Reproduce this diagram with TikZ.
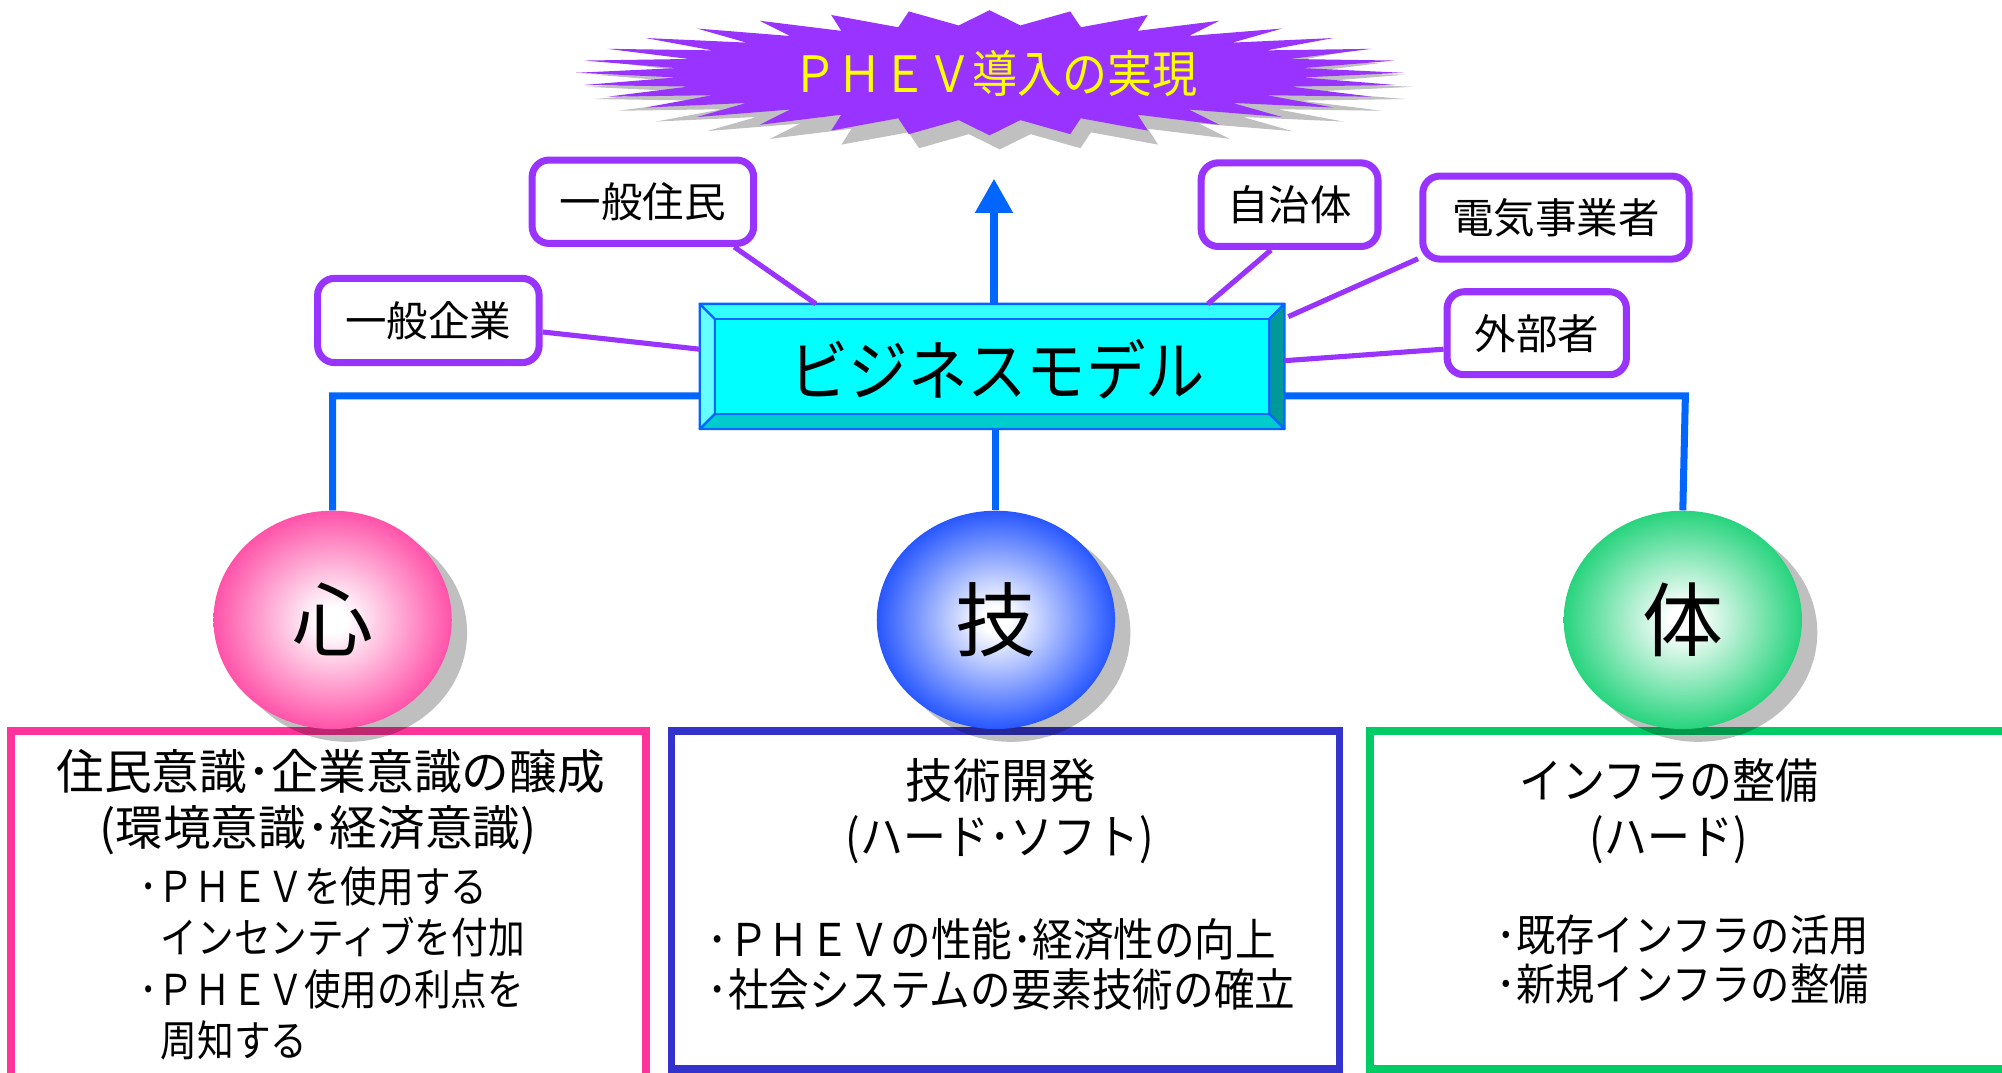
\documentclass[tikz,border=0pt]{standalone}
\usepackage{fontspec}
\setmainfont{Noto Sans CJK JP}
\newfontfamily\jpnarrow[FakeStretch=0.9]{Noto Sans CJK JP}
\newfontfamily\jpcond[FakeStretch=0.86]{Noto Sans CJK JP}
\usetikzlibrary{calc,arrows.meta,shapes.geometric,shadows}
\definecolor{starpurple}{HTML}{9933FF}
\definecolor{lblpurple}{HTML}{9933FF}
\definecolor{lineblue}{HTML}{0066FF}
\definecolor{kpink}{HTML}{FF3399}
\definecolor{kblue}{HTML}{0038FF}
\definecolor{kgreen}{HTML}{00CC66}
\definecolor{boxblue}{HTML}{3333CC}
\definecolor{cyanface}{HTML}{00FFFF}
\definecolor{cyantop}{HTML}{33FFFF}
\definecolor{cyanleft}{HTML}{66FFFF}
\definecolor{cyanbot}{HTML}{00CCCC}
\definecolor{cyanright}{HTML}{009999}
\definecolor{shadowgray}{HTML}{C0C0C0}
\definecolor{goalyellow}{HTML}{FFFF00}
\pgfdeclareradialshading{pinkball}{\pgfpoint{0bp}{0bp}}{color(0bp)=(white); color(3bp)=(white); color(29bp)=(kpink); color(50bp)=(kpink)}
\pgfdeclareradialshading{blueball}{\pgfpoint{0bp}{0bp}}{color(0bp)=(white); color(3bp)=(white); color(29bp)=(kblue); color(50bp)=(kblue)}
\pgfdeclareradialshading{greenball}{\pgfpoint{0bp}{0bp}}{color(0bp)=(white); color(3bp)=(white); color(29bp)=(kgreen); color(50bp)=(kgreen)}
\tikzset{
  lbl/.style={draw=lblpurple, line width=3.3pt, rounded corners=8pt, fill=white, inner sep=0pt, font=\fontsize{19.5}{22}\selectfont},
  conn/.style={draw=lblpurple, line width=2.4pt},
  blueline/.style={draw=lineblue, line width=3.3pt},
  bevel/.style={draw=lineblue, line width=1.1pt, line join=round},
  ball/.style={ellipse, minimum width=112pt, minimum height=102.6pt, inner sep=0pt, font=\fontsize{38}{40}\selectfont, drop shadow={shadow xshift=7.2pt, shadow yshift=-6pt, fill=black, opacity=0.25}},
  bigbox/.style={rectangle, line width=3.6pt, inner sep=0pt},
  titlefont/.style={inner sep=0pt, font=\fontsize{22.4}{26}\selectfont},
  titlenarrow/.style={inner sep=0pt, font=\jpnarrow\fontsize{22.4}{26}\selectfont},
  bulletL/.style={inner sep=0pt, align=left, font=\jpcond\fontsize{20}{24.2}\selectfont},
  bulletM/.style={inner sep=0pt, align=left, font=\jpnarrow\fontsize{20.5}{23.4}\selectfont},
  bulletMid/.style={inner sep=0pt, align=left, font=\jpnarrow\fontsize{21.2}{23.4}\selectfont},
}
\begin{document}
\begin{tikzpicture}[x=0.6pt,y=-0.6pt]
\useasboundingbox (0,0) rectangle (1568,840);
\clip (0,0) rectangle (1568,840);
% starburst
\def\scx{775}\def\scy{57}\def\srx{324}\def\sry{49}
\fill[shadowgray] plot[domain=0:64, samples=65, variable=\i]
  ({\scx+8+\srx*(1-0.24*mod(round(\i),2))*cos(\i*5.625)}, {\scy+11+\sry*(1-0.24*mod(round(\i),2))*sin(\i*5.625)}) -- cycle;
\fill[starpurple] plot[domain=0:64, samples=65, variable=\i]
  ({\scx+\srx*(1-0.24*mod(round(\i),2))*cos(\i*5.625)}, {\scy+\sry*(1-0.24*mod(round(\i),2))*sin(\i*5.625)}) -- cycle;
\node[inner sep=0pt, text=goalyellow, font=\jpnarrow\fontsize{23.5}{24}\selectfont] (goal) at (779,58) {ＰＨＥＶ導入の実現};
% bottom boxes
\node[bigbox, draw=kpink, minimum width=298.5pt, minimum height=166.5pt] (boxL) at (257.25,711.25) {};
\node[bigbox, draw=boxblue, minimum width=313.8pt, minimum height=158.7pt] (boxM) at (787.5,704.75) {};
\node[bigbox, draw=kgreen, minimum width=304.2pt, minimum height=158.7pt] (boxR) at (1326.5,704.75) {};
% balls
\node[ball, shade, shading=pinkball] (kokoro) at (260.5,485.5) {心};
\node[ball, shade, shading=blueball] (waza) at (780,485.5) {技};
\node[ball, shade, shading=greenball] (tai) at (1318,485.5) {体};
% business model frame
\node[minimum width=274.8pt, minimum height=58.8pt, inner sep=0pt, outer sep=0pt] (bm) at (777,287) {};
\coordinate (hl) at (260.5,310);
\coordinate (hr) at (1320,310);
\draw[blueline] (kokoro.north) -- (hl) -- (hr) -- (tai.north);
\draw[blueline] (bm.south -| waza.north) -- (waza.north);
\coordinate (bA) at (bm.north west);
\coordinate (bB) at (bm.north east);
\coordinate (bC) at (bm.south east);
\coordinate (bD) at (bm.south west);
\coordinate (ba) at ($(bA)+(12,12)$);
\coordinate (bb) at ($(bB)+(-12,12)$);
\coordinate (bc) at ($(bC)+(-12,-12)$);
\coordinate (bd) at ($(bD)+(12,-12)$);
\filldraw[bevel, fill=cyantop] (bA) -- (bB) -- (bb) -- (ba) -- cycle;
\filldraw[bevel, fill=cyanright] (bB) -- (bC) -- (bc) -- (bb) -- cycle;
\filldraw[bevel, fill=cyanbot] (bC) -- (bD) -- (bd) -- (bc) -- cycle;
\filldraw[bevel, fill=cyanleft] (bD) -- (bA) -- (ba) -- (bd) -- cycle;
\filldraw[bevel, fill=cyanface] (ba) -- (bb) -- (bc) -- (bd) -- cycle;
\node[inner sep=0pt, font=\jpnarrow\fontsize{31}{32}\selectfont] (bmtext) at (781,289) {ビジネスモデル};
% arrow
\coordinate (tip) at (778.5,140);
\draw[blueline, -{Triangle[width=17pt,length=16pt]}] (bm.north -| tip) -- (tip);
% labels
\node[lbl, minimum width=104.1pt, minimum height=39.2pt] (jumin) at (503.5,158) {一般住民};
\node[lbl, minimum width=104.1pt, minimum height=39.6pt] (kigyo) at (335.5,251) {一般企業};
\node[lbl, minimum width=83.1pt, minimum height=39.3pt] (jichi) at (1010,160.3) {自治体};
\node[lbl, minimum width=125.1pt, minimum height=39pt] (denki) at (1218.6,170.4) {電気事業者};
\node[lbl, minimum width=84.3pt, minimum height=39pt] (gaibu) at (1203.6,261) {外部者};
\draw[conn] ($(jumin.south)+(71.5,0)$) -- ($(bm.north west)+(91,0)$);
\draw[conn] ($(kigyo.east)+(0,9)$) -- ($(bm.west)+(0,-13.5)$);
\draw[conn] ($(jichi.south)+(-14.5,0)$) -- ($(bm.north)+(169,0)$);
\draw[conn] ($(denki.south west)+(-1,-3)$) -- ($(bm.north east)+(3,10)$);
\draw[conn] ($(gaibu.west)+(0,12.5)$) -- ($(bm.east)+(0,-4.5)$);
% texts in boxes
\node[titlefont] (lt1) at (259,604) {住民意識･企業意識の醸成};
\node[titlefont] (lt2) at (249,650) {(環境意識･経済意識)};
\node[bulletL, anchor=west] (lb) at (109,754.5) {･ＰＨＥＶを使用する\\\hspace*{0.5em}インセンティブを付加\\･ＰＨＥＶ使用の利点を\\\hspace*{0.5em}周知する};
\node[titlefont] (mt1) at (784,611) {技術開発};
\node[titlenarrow] (mt2) at (783,658) {(ハード･ソフト)};
\node[bulletMid, anchor=west] (mb) at (554,755.5) {･ＰＨＥＶの性能･経済性の向上\\･社会システムの要素技術の確立};
\node[titlenarrow] (rt1) at (1307,611) {インフラの整備};
\node[titlenarrow] (rt2) at (1307,658) {(ハード)};
\node[bulletM, anchor=west] (rb) at (1172,751.5) {･既存インフラの活用\\･新規インフラの整備};
\end{tikzpicture}
\end{document}
